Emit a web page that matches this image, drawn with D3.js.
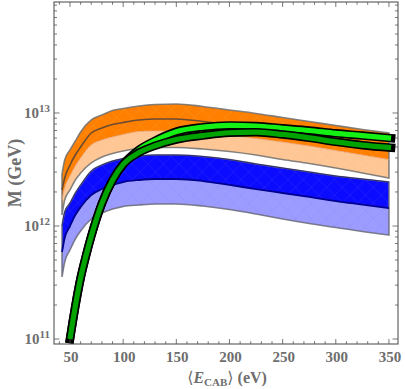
<!DOCTYPE html>
<html>
<head>
<meta charset="utf-8">
<script src="https://cdn.jsdelivr.net/npm/d3@7"></script>
<style>
  body { margin: 0; background: #fff; }
  svg { display: block; }
  text { font-family: "Liberation Serif", "DejaVu Serif", serif; font-weight: bold; fill: #6e6e6e; }
</style>
</head>
<body>
<script>
// energies (eV) where the bands were read
const eBand = [42.5, 45, 50, 55, 60, 70, 80, 90, 100, 115, 130, 150, 175, 200, 225, 250, 275, 300, 325, 350];

// log10 M (GeV)
const orangeTop  = [12.460, 12.584, 12.673, 12.752, 12.832, 12.938, 12.982, 13.022, 13.040, 13.062, 13.075, 13.080, 13.058, 13.027, 12.996, 12.960, 12.925, 12.889, 12.854, 12.823];
const orangeLine = [12.319, 12.425, 12.540, 12.628, 12.699, 12.823, 12.867, 12.898, 12.916, 12.938, 12.947, 12.947, 12.925, 12.898, 12.867, 12.841, 12.810, 12.774, 12.743, 12.712];
const orangeMid  = [12.230, 12.336, 12.442, 12.531, 12.602, 12.717, 12.761, 12.788, 12.810, 12.836, 12.841, 12.841, 12.823, 12.801, 12.774, 12.743, 12.708, 12.668, 12.628, 12.588];
const orangeLow  = [12.097, 12.230, 12.319, 12.407, 12.469, 12.558, 12.611, 12.642, 12.664, 12.686, 12.695, 12.695, 12.681, 12.659, 12.628, 12.588, 12.553, 12.513, 12.469, 12.425];

const blueTop  = [12.000, 12.124, 12.204, 12.292, 12.363, 12.487, 12.540, 12.575, 12.597, 12.619, 12.628, 12.628, 12.615, 12.588, 12.549, 12.513, 12.478, 12.442, 12.416, 12.389];
const blueLine = [11.770, 11.894, 12.000, 12.097, 12.168, 12.274, 12.327, 12.363, 12.389, 12.407, 12.416, 12.416, 12.398, 12.363, 12.327, 12.292, 12.257, 12.221, 12.190, 12.159];
const blueLow  = [11.549, 11.681, 11.788, 11.885, 11.956, 12.062, 12.115, 12.150, 12.173, 12.186, 12.195, 12.195, 12.177, 12.146, 12.106, 12.062, 12.022, 11.987, 11.951, 11.920];

// green curves
const eGreen = [50, 55, 60, 65, 70, 80, 90, 100, 115, 130, 150, 175, 200, 225, 250, 275, 300, 325, 352];
const greenBright = [11.0, 11.29, 11.54, 11.735, 11.91, 12.20, 12.405, 12.545, 12.675, 12.755, 12.835, 12.875, 12.89, 12.885, 12.865, 12.845, 12.82, 12.80, 12.777];
const greenDark   = [11.0, 11.29, 11.54, 11.735, 11.91, 12.20, 12.405, 12.545, 12.65, 12.71, 12.765, 12.80, 12.825, 12.83, 12.81, 12.78, 12.745, 12.715, 12.693];

const xTicks = [50, 100, 150, 200, 250, 300, 350];
const yTicks = [11, 12, 13]; // exponents

const width = 405, height = 389;
const pLeft = 54, pRight = 398, pTop = 2, pBottom = 344;

const svg = d3.select('body').append('svg')
   .attr('width', width)
   .attr('height', height);

const x = d3.scaleLinear().domain([34.95, 358.5]).range([pLeft, pRight]);
const y = d3.scaleLog().domain([Math.pow(10, 10.956), Math.pow(10, 13.982)]).range([pBottom, pTop]);

const defs = svg.append('defs');
defs.append('clipPath').attr('id', 'plotClip')
   .append('rect').attr('x', pLeft).attr('y', pTop).attr('width', pRight - pLeft).attr('height', pBottom - pTop);

// faint mesh texture like the original render
function meshPattern(id, col, op) {
   const p = defs.append('pattern').attr('id', id)
      .attr('patternUnits', 'userSpaceOnUse')
      .attr('width', 11).attr('height', 11)
      .attr('patternTransform', 'rotate(45)');
   p.append('line').attr('x1', 0).attr('y1', 0).attr('x2', 11).attr('y2', 0)
      .attr('stroke', col).attr('stroke-opacity', op).attr('stroke-width', 0.8);
   p.append('line').attr('x1', 0).attr('y1', 0).attr('x2', 0).attr('y2', 11)
      .attr('stroke', col).attr('stroke-opacity', op).attr('stroke-width', 0.8);
}
meshPattern('meshLight', '#ffffff', 0.12);
meshPattern('meshBlue', '#5a5aff', 0.2);
meshPattern('meshPeach', '#f0a878', 0.2);

const plot = svg.append('g').attr('clip-path', 'url(#plotClip)');

const pow = v => Math.pow(10, v);
const band = (hi, lo) => eBand.map((e, i) => ({ e: e, hi: pow(hi[i]), lo: pow(lo[i]) }));
const line = arr => eBand.map((e, i) => ({ e: e, v: pow(arr[i]) }));

const area = d3.area()
   .x(d => x(d.e))
   .y0(d => y(d.lo))
   .y1(d => y(d.hi))
   .curve(d3.curveMonotoneX);

const path = d3.line()
   .x(d => x(d.e))
   .y(d => y(d.v))
   .curve(d3.curveMonotoneX);

function drawRegion(hi, lo, fill, mesh) {
   plot.append('path').attr('d', area(band(hi, lo))).attr('fill', fill);
   if (mesh) plot.append('path').attr('d', area(band(hi, lo))).attr('fill', `url(#${mesh})`);
}

// orange band
drawRegion(orangeTop, orangeMid, '#ff8000', 'meshLight');
drawRegion(orangeMid, orangeLow, '#ffc795', 'meshPeach');
plot.append('path').attr('d', area(band(orangeTop, orangeLow)))
   .attr('fill', 'none').attr('stroke', '#707070').attr('stroke-width', 1.6).attr('stroke-opacity', 0.85);
plot.append('path').attr('d', path(line(orangeMid)))
   .attr('fill', 'none').attr('stroke', '#e8a070').attr('stroke-width', 0.8);
plot.append('path').attr('d', path(line(orangeLine)))
   .attr('fill', 'none').attr('stroke', '#6a4a30').attr('stroke-width', 1.6);

// blue band
drawRegion(blueTop, blueLine, '#0b0bff', 'meshLight');
drawRegion(blueLine, blueLow, '#9c9cff', 'meshBlue');
plot.append('path').attr('d', area(band(blueTop, blueLow)))
   .attr('fill', 'none').attr('stroke', '#6a6a7a').attr('stroke-width', 1.6).attr('stroke-opacity', 0.85);
plot.append('path').attr('d', path(line(blueTop)))
   .attr('fill', 'none').attr('stroke', '#2a2a70').attr('stroke-width', 1);
plot.append('path').attr('d', path(line(blueLine)))
   .attr('fill', 'none').attr('stroke', '#000090').attr('stroke-width', 1.8);

// green curves: black casing under the colour
const gLine = arr => eGreen.map((e, i) => ({ e: e, v: pow(arr[i]) }));
[[greenBright, '#14f014'], [greenDark, '#00a400']].forEach(([arr, col]) => {
   plot.append('path').attr('d', path(gLine(arr)))
      .attr('fill', 'none').attr('stroke', '#000').attr('stroke-width', 8.5)
      .attr('stroke-linecap', 'square');
   plot.append('path').attr('d', path(gLine(arr)))
      .attr('fill', 'none').attr('stroke', col).attr('stroke-width', 5.2)
      .attr('stroke-linecap', 'butt');
});

// frame
svg.append('rect').attr('x', pLeft).attr('y', pTop)
   .attr('width', pRight - pLeft).attr('height', pBottom - pTop)
   .attr('fill', 'none').attr('stroke', '#454545').attr('stroke-width', 1);

const tickCol = '#555';
// x ticks (inward, top and bottom)
d3.range(40, 360, 10).forEach(v => {
   const major = v % 50 === 0;
   const len = major ? 5 : 2.8;
   const px = x(v);
   svg.append('line').attr('x1', px).attr('x2', px).attr('y1', pBottom).attr('y2', pBottom - len)
      .attr('stroke', tickCol).attr('stroke-width', 0.8);
   svg.append('line').attr('x1', px).attr('x2', px).attr('y1', pTop).attr('y2', pTop + len)
      .attr('stroke', tickCol).attr('stroke-width', 0.8);
});
svg.selectAll('.xlab')
   .data(xTicks)
   .enter().append('text')
   .attr('x', d => x(d) + 1)
   .attr('y', 362)
   .attr('text-anchor', 'middle')
   .style('font-size', '15px')
   .text(d => d);

// y ticks (log, inward, left and right)
const yMin = y.domain()[0], yMax = y.domain()[1];
for (let p = 10; p <= 13; p++) {
   for (let k = 1; k <= 9; k++) {
      const v = k * Math.pow(10, p);
      if (v < yMin || v > yMax) continue;
      const len = k === 1 ? 5.5 : 3;
      const py = y(v);
      svg.append('line').attr('x1', pLeft).attr('x2', pLeft + len).attr('y1', py).attr('y2', py)
         .attr('stroke', tickCol).attr('stroke-width', 0.8);
      svg.append('line').attr('x1', pRight).attr('x2', pRight - len).attr('y1', py).attr('y2', py)
         .attr('stroke', tickCol).attr('stroke-width', 0.8);
   }
}
const yl = svg.selectAll('.ylab')
   .data(yTicks)
   .enter().append('text')
   .attr('x', 50)
   .attr('y', d => y(pow(d)) + 5)
   .attr('text-anchor', 'end')
   .style('font-size', '15px');
yl.append('tspan').text('10');
yl.append('tspan').attr('dy', -6).style('font-size', '11px').text(d => d);

// axis titles
svg.append('text')
   .attr('transform', `translate(21,${(pTop + pBottom) / 2}) rotate(-90)`)
   .attr('text-anchor', 'middle')
   .style('font-size', '18px')
   .text('M (GeV)');

const xt = svg.append('text')
   .attr('x', (pLeft + pRight) / 2 + 1)
   .attr('y', 383)
   .attr('text-anchor', 'middle')
   .style('font-size', '16px');
xt.append('tspan').style('font-weight', 'normal').text('\u27E8');
xt.append('tspan').style('font-style', 'italic').text('E');
xt.append('tspan').attr('dy', 3).style('font-size', '11px').text('CAB');
xt.append('tspan').attr('dy', -3).style('font-weight', 'normal').text('\u27E9');
xt.append('tspan').text(' (eV)');
</script>
</body>
</html>
